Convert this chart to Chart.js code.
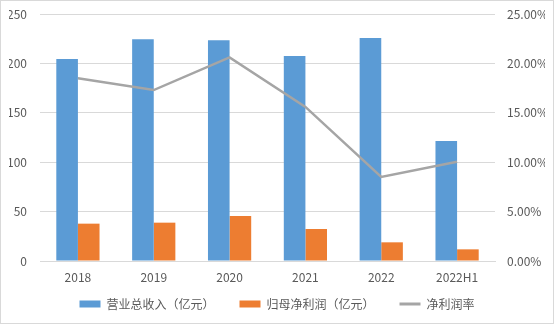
<!DOCTYPE html>
<html>
<head>
<meta charset="utf-8">
<script src="https://cdn.jsdelivr.net/npm/chart.js@4"></script>
<style>
  html, body { margin: 0; padding: 0; background: #fff; }
  .box { width: 554px; height: 324px; box-sizing: border-box; border: 1px solid #d9d9d9; }
</style>
</head>
<body>
<div class="box"><canvas id="myChart"></canvas></div>
<script>
const years = ['2018', '2019', '2020', '2021', '2022', '2022H1'];
const revenue = [204.5, 224.5, 223.5, 207.5, 225.7, 121.5];
const netProfit = [37.8, 38.8, 45.5, 32.4, 18.9, 11.8];
const netMargin = [18.5, 17.3, 20.6, 15.6, 8.5, 10.05];

const font = { family: "'Noto Sans CJK SC', 'Noto Sans', sans-serif", size: 12 };
const textColor = '#595959';
const gridColor = '#d9d9d9';

// legend sits closer to the axis labels than chart.js would put it
const legendShift = {
    id: 'legendShift',
    afterInit(chart) {
        const legend = chart.legend;
        const fit = legend.fit;
        legend.fit = function () {
            fit.call(this);
            this.height = 35;
        };
    },
    afterLayout(chart) {
        chart.legend.top -= 12;
    }
};

const noVertPad = (scale) => {
    scale.paddingTop = 0;
    scale.paddingBottom = 0;
};

const ctx = document.getElementById('myChart');

new Chart(ctx, {
    type: 'bar',
    data: {
        labels: years,
        datasets: [{
            label: '营业总收入（亿元）',
            data: revenue,
            backgroundColor: '#5b9bd5',
            yAxisID: 'y',
            categoryPercentage: 0.57,
            barPercentage: 1
        }, {
            label: '归母净利润（亿元）',
            data: netProfit,
            backgroundColor: '#ed7d31',
            yAxisID: 'y',
            categoryPercentage: 0.57,
            barPercentage: 1
        }, {
            type: 'line',
            label: '净利润率',
            data: netMargin,
            borderColor: '#a5a5a5',
            backgroundColor: '#a5a5a5',
            borderWidth: 2.5,
            pointRadius: 0,
            tension: 0,
            yAxisID: 'y1',
            order: -1
        }]
    },
    plugins: [legendShift],
    options: {
        responsive: true,
        maintainAspectRatio: false,
        animation: false,
        layout: { padding: { top: 13, left: 8, right: 8, bottom: 3 } },
        plugins: {
            tooltip: { enabled: false },
            legend: {
                position: 'bottom',
                labels: {
                    color: textColor,
                    font: font,
                    usePointStyle: true,
                    pointStyleWidth: 21,
                    boxHeight: 7,
                    padding: 25,
                    sort: (a, b) => a.datasetIndex - b.datasetIndex,
                    generateLabels: (chart) => {
                        const items = Chart.defaults.plugins.legend.labels.generateLabels(chart);
                        items.forEach(it => {
                            const ds = chart.data.datasets[it.datasetIndex];
                            if (ds.type === 'line') {
                                it.pointStyle = 'line';
                                it.lineWidth = 3;
                                it.strokeStyle = '#a5a5a5';
                            } else {
                                it.pointStyle = 'rect';
                                it.lineWidth = 0;
                            }
                        });
                        return items;
                    }
                }
            }
        },
        scales: {
            x: {
                grid: { display: false, drawTicks: false },
                border: { color: gridColor },
                ticks: { color: textColor, font: font, padding: 9 },
                afterFit: (scale) => { scale.height = 24; }
            },
            y: {
                position: 'left',
                min: 0,
                max: 250,
                border: { display: false },
                grid: { color: gridColor, drawTicks: false },
                ticks: { stepSize: 50, color: textColor, font: font, padding: 13 },
                afterFit: (scale) => { scale.width = 31; noVertPad(scale); }
            },
            y1: {
                position: 'right',
                min: 0,
                max: 25,
                border: { display: false },
                grid: { display: false, drawTicks: false },
                ticks: {
                    stepSize: 5,
                    color: textColor,
                    font: font,
                    padding: 12,
                    callback: v => v.toFixed(2) + '%'
                },
                afterFit: (scale) => { scale.width = 50; noVertPad(scale); }
            }
        }
    }
});
</script>
</body>
</html>
